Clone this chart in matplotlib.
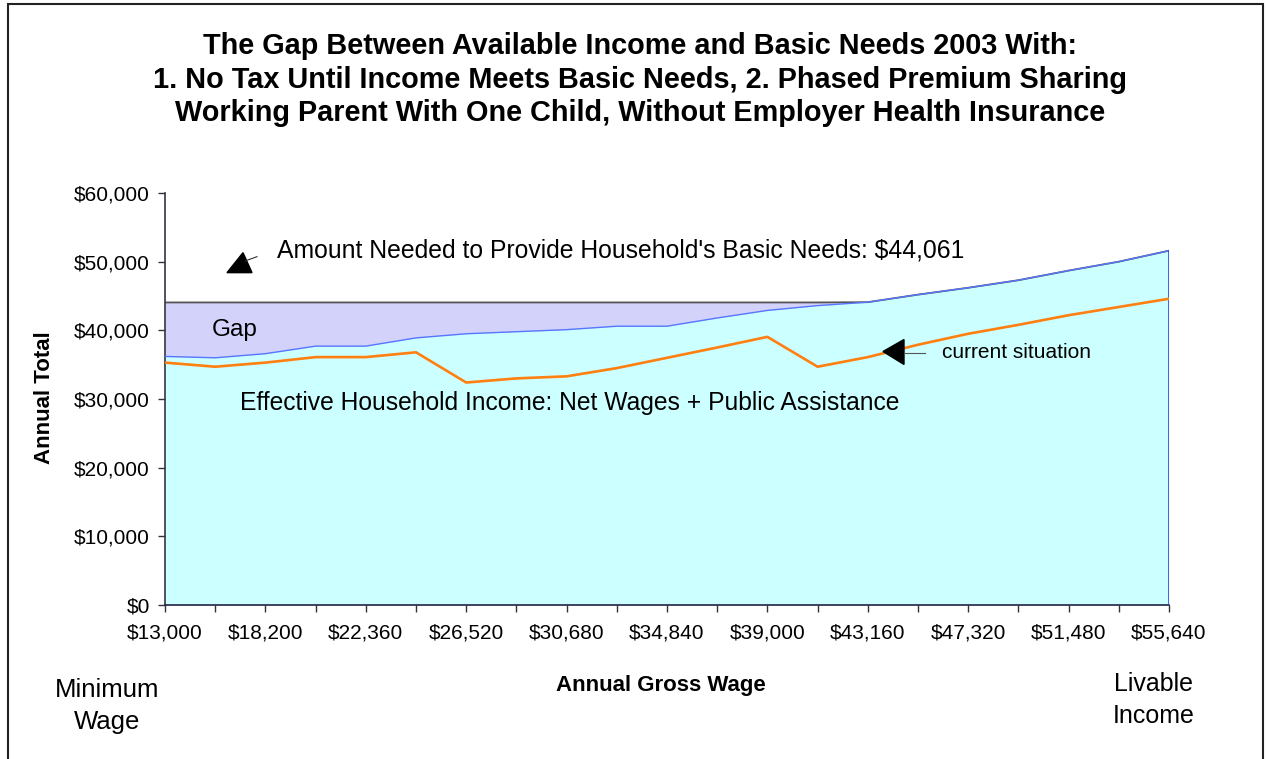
import matplotlib
matplotlib.use("Agg")
import matplotlib.pyplot as plt
from matplotlib.patches import Polygon, Rectangle
import numpy as np

plt.rcParams['font.family'] = ['Liberation Sans', 'DejaVu Sans']

wages = [13000, 15600, 18200, 20280, 22360, 24440, 26520, 28600, 30680, 32760, 34840,
         36920, 39000, 41080, 43160, 45240, 47320, 49400, 51480, 53560, 55640]
income = [36200, 36000, 36600, 37700, 37700, 38900, 39500, 39800, 40100, 40600, 40600,
          41800, 42900, 43600, 44100, 45200, 46200, 47300, 48700, 50000, 51600]
current = [35300, 34700, 35300, 36100, 36100, 36800, 32400, 33000, 33300, 34500, 36000,
           37500, 39050, 34700, 36100, 37900, 39500, 40800, 42200, 43400, 44600]
basic_needs = 44061
y_ticks = [0, 10000, 20000, 30000, 40000, 50000, 60000]

x = np.arange(len(wages))
inc = np.array(income, dtype=float)
cur = np.array(current, dtype=float)
top = np.maximum(inc, basic_needs)

W, H = 1267, 759
fig = plt.figure(figsize=(W/100, H/100), dpi=100)
ax = fig.add_axes([165/W, 1-605/H, (1169-165)/W, (605-193)/H])

ax.fill_between(x, 0, inc, color='#CCFFFF', lw=0, zorder=1)
ax.fill_between(x, inc, top, color='#D2D2FA', lw=0, zorder=1)
ax.plot(x, top, color='#555555', lw=1.3, zorder=2)
ax.plot(x, inc, color='#5577FF', lw=1.0, zorder=3)
ax.plot(x, cur, color='#FF7F10', lw=1.9, zorder=4)
ax.plot([x[-1], x[-1]], [0, inc[-1]], color='#3344DD', lw=1.2, zorder=3)

ax.set_xlim(0, len(wages)-1)
ax.set_ylim(0, 60000)
ax.set_yticks(y_ticks)
ax.set_yticklabels([f"${v:,.0f}" for v in y_ticks], fontsize=15)
ax.set_xticks(x)
ax.set_xticklabels([f"${w:,.0f}" if i % 2 == 0 else "" for i, w in enumerate(wages)], fontsize=15)
ax.tick_params(axis='both', direction='out', length=5, width=1, color='#333333')
ax.tick_params(axis='y', pad=6)
ax.tick_params(axis='x', pad=8)
for s in ['top', 'right']:
    ax.spines[s].set_visible(False)
ax.spines['left'].set_color('#333344')
ax.spines['bottom'].set_color('#222244')
ax.spines['left'].set_linewidth(1.2)
ax.spines['bottom'].set_linewidth(1.2)

fig.text(44/W, 1-398/H, 'Annual Total', fontsize=16, fontweight='bold',
         rotation=90, ha='center', va='center')
fig.text(661/W, 1-686/H, 'Annual Gross Wage', fontsize=16, fontweight='bold',
         ha='center', va='center')

ax.text(2.23, 51600, "Amount Needed to Provide Household's Basic Needs: $44,061",
        fontsize=17.8, va='center', ha='left')
ax.text(0.94, 40000, "Gap", fontsize=17.5, va='center', ha='left')
ax.text(1.49, 29360, "Effective Household Income: Net Wages + Public Assistance",
        fontsize=17.7, va='center', ha='left')
ax.text(15.48, 36770, "current situation", fontsize=15, va='center', ha='left')

def px(xp, yp):
    return ((xp - 165) / 50.2, (605 - yp) / 6.88 * 1000)

tri1 = Polygon([px(243, 252), px(227, 272), px(252, 272)], closed=True,
               color='black', zorder=6, clip_on=False)
ax.add_patch(tri1)
l1 = [px(246, 260), px(257, 256)]
ax.plot([l1[0][0], l1[1][0]], [l1[0][1], l1[1][1]], color='#333333', lw=0.8, zorder=6)

tri2 = Polygon([px(883, 351), px(904, 339), px(904, 364)], closed=True,
               color='black', zorder=6)
ax.add_patch(tri2)
l2 = [px(904, 353), px(925, 353)]
ax.plot([l2[0][0], l2[1][0]], [l2[0][1], l2[1][1]], color='#555555', lw=0.8, zorder=6)

title_lines = ["The Gap Between Available Income and Basic Needs 2003 With:",
               "1. No Tax Until Income Meets Basic Needs, 2. Phased Premium Sharing",
               "Working Parent With One Child, Without Employer Health Insurance"]
for t, yy in zip(title_lines, [46, 80, 113]):
    fig.text(640/W, 1-yy/H, t, fontsize=20.8, fontweight='bold', ha='center', va='center')

fig.text(107/W, 1-706/H, "Minimum\nWage", fontsize=18.5, ha='center', va='center',
         linespacing=1.4)
fig.text(1154/W, 1-700/H, "Livable\nIncome", fontsize=18, ha='center', va='center',
         linespacing=1.4)

fig.patches.append(Rectangle((8/W, -0.05), (1263-8)/W, 1-4/H+0.05,
                             transform=fig.transFigure, fill=False,
                             edgecolor='#222222', lw=1.5))

fig.savefig('out.png', dpi=100)
